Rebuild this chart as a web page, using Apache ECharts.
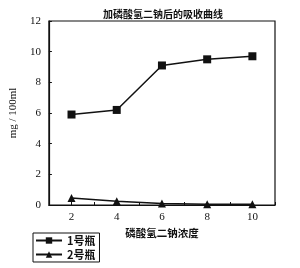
<!DOCTYPE html>
<html><head><meta charset="utf-8">
<script src="https://cdn.jsdelivr.net/npm/echarts@6/dist/echarts.min.js"></script>
<style>html,body{margin:0;padding:0;background:#fff}#c{width:300px;height:268px}</style>
</head><body><div id="c"></div>
<script>
const concentrations = [2, 4, 6, 8, 10];
const bottle1 = [5.9, 6.2, 9.1, 9.5, 9.7];
const bottle2 = [0.45, 0.25, 0.1, 0.05, 0.05];
const seriesNames = ['1号瓶', '2号瓶'];
const titleText = '加磷酸氢二钠后的吸收曲线';
const xName = '磷酸氢二钠浓度';
const yName = 'mg / 100ml';

const serif = 'Liberation Serif';
const cjk = 'Noto Sans CJK SC';
const chart = echarts.init(document.getElementById('c'));
chart.setOption({
  animation: false,
  title: { text: titleText, left: 158, textAlign: 'center', top: 4,
    textStyle: { fontFamily: cjk, fontSize: 10, fontWeight: 'bold', color: '#111' } },
  grid: { left: 40, right: 25, top: 21, bottom: 63, show: true, borderColor: '#111', borderWidth: 1.2 },
  xAxis: {
    type: 'value', min: 1, max: 11, interval: 1,
    name: xName, nameLocation: 'middle', nameGap: 22,
    nameTextStyle: { fontFamily: cjk, fontSize: 10.5, fontWeight: 'bold', color: '#111' },
    axisLine: { lineStyle: { color: '#111', width: 1.2 } },
    axisTick: { inside: true, length: 3, lineStyle: { color: '#111' } },
    axisLabel: { fontFamily: serif, fontSize: 11, color: '#111', margin: 7,
      formatter: v => concentrations.indexOf(v) >= 0 ? String(v) : '' },
    splitLine: { show: false }
  },
  yAxis: {
    type: 'value', min: 0, max: 12, interval: 2,
    name: yName, nameLocation: 'middle', nameGap: 24,
    nameTextStyle: { fontFamily: serif, fontSize: 11, color: '#111' },
    axisLine: { show: true, lineStyle: { color: '#111', width: 1.2 } },
    axisTick: { show: true, inside: true, length: 3, lineStyle: { color: '#111' } },
    axisLabel: { fontFamily: serif, fontSize: 11, color: '#111', margin: 8 },
    splitLine: { show: false }
  },
  legend: {
    orient: 'vertical', left: 33, top: 233, padding: [2, 4, 2, 2], itemGap: 3,
    itemWidth: 26, itemHeight: 8,
    borderColor: '#111', borderWidth: 1,
    textStyle: { fontFamily: cjk, fontSize: 11, fontWeight: 'bold', color: '#111', padding: [0, 0, 0, 0] },
    data: seriesNames
  },
  series: [
    { name: seriesNames[0], type: 'line', data: concentrations.map((x, i) => [x, bottle1[i]]),
      symbol: 'rect', symbolSize: 8, lineStyle: { color: '#111', width: 1.5 }, itemStyle: { color: '#111' } },
    { name: seriesNames[1], type: 'line', data: concentrations.map((x, i) => [x, bottle2[i]]),
      symbol: 'triangle', symbolSize: 8, lineStyle: { color: '#111', width: 1.5 }, itemStyle: { color: '#111' } }
  ]
});
</script></body></html>
